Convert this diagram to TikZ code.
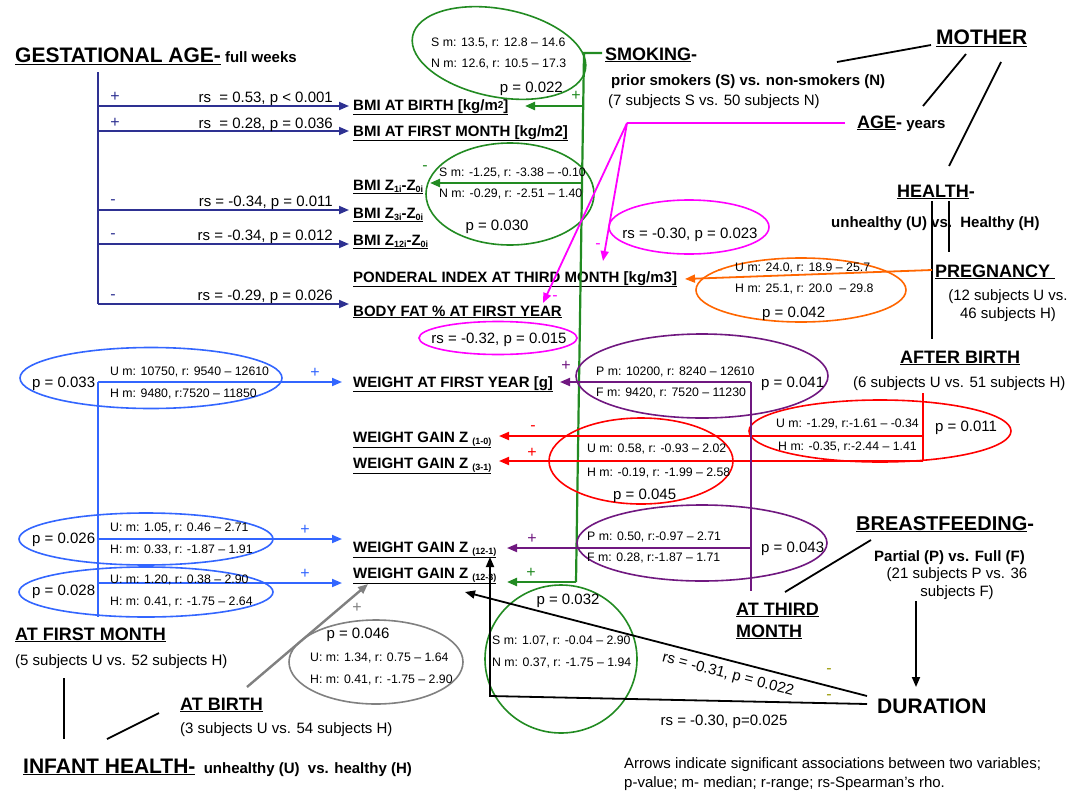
\documentclass[tikz,border=0pt]{standalone}
\usepackage{fontspec}
\setmainfont{Liberation Sans}
\usetikzlibrary{arrows.meta,shapes.geometric}
\newcommand\fsz[1]{\fontsize{#1}{#1}\selectfont}
\newcommand\ul[1]{\setbox0\hbox{#1}\rlap{\rule[\dimexpr-\dp0-2pt\relax]{\wd0}{1.1pt}}\box0}
\newcommand\sbs[1]{\raisebox{-2pt}{\fsz{9}#1}}
\definecolor{gablue}{RGB}{46,49,146}
\definecolor{ihblue}{RGB}{51,102,255}
\definecolor{smgreen}{RGB}{34,139,34}
\definecolor{agemag}{RGB}{255,0,255}
\definecolor{pgorange}{RGB}{255,102,0}
\definecolor{abred}{RGB}{255,0,0}
\definecolor{bfpurple}{RGB}{112,24,128}
\definecolor{ihgray}{RGB}{128,128,128}
\definecolor{olivesgn}{RGB}{153,153,0}
\begin{document}
\begin{tikzpicture}[x=1pt,y=-1pt,
  every node/.style={inner sep=0pt},
  tx/.style={anchor=base west},
  tr/.style={anchor=base east},
  tc/.style={anchor=base},
  lab/.style={anchor=base west,font=\bfseries\fsz{15}},
  reg/.style={font=\fsz{15}},
  bld/.style={font=\bfseries\fsz{15}},
  sm/.style={anchor=base west,font=\fsz{12.3}},
  ln/.style={line width=1.8pt},
  arr/.style={line width=1.8pt,-{Triangle[length=10pt,width=8pt]}},
  ell/.style={draw,ellipse,line width=1.6pt},
  sgn/.style={font=\fsz{16}},
]
\useasboundingbox[fill=white] (0,0) rectangle (1083,792);

% ---------- target labels ----------
\node[lab] (bmib) at (353,110) {\ul{BMI AT BIRTH [kg/m\raisebox{1.5pt}{\fsz{10}2}]}};
\node[lab] (bmif) at (353,136) {\ul{BMI AT FIRST MONTH [kg/m2]}};
\node[lab] (z1) at (353,190) {\ul{BMI Z\sbs{1i}-Z\sbs{0i}}};
\node[lab] (z3) at (353,218) {\ul{BMI Z\sbs{3i}-Z\sbs{0i}}};
\node[lab] (z12) at (353,245) {\ul{BMI Z\sbs{12i}-Z\sbs{0i}}};
\node[lab] (pond) at (353,282) {\ul{PONDERAL INDEX AT THIRD MONTH [kg/m3]}};
\node[lab] (bfat) at (353,316) {\ul{BODY FAT \% AT FIRST YEAR}};
\node[lab] (w1y) at (353,387) {\ul{WEIGHT AT FIRST YEAR [g]}};
\node[lab] (wg10) at (353,442) {\ul{WEIGHT GAIN Z \sbs{(1-0)}}};
\node[lab] (wg31) at (353,468) {\ul{WEIGHT GAIN Z \sbs{(3-1)}}};
\node[lab] (wg121) at (353,552) {\ul{WEIGHT GAIN Z \sbs{(12-1)}}};
\node[lab] (wg123) at (353,578) {\ul{WEIGHT GAIN Z \sbs{(12-3)}}};

% ---------- gestational age ----------
\node[tx] (ga) at (15,63) {\bfseries\fsz{21}\ul{GESTATIONAL AGE-}\fsz{15} full weeks};
\coordinate (gaTop) at (98,72);
\coordinate (gaBot) at (98,304);
\draw[ln,gablue] (gaTop) -- (gaBot);
\foreach \y/\n in {106/1,131/2,210/3,244/4,304/5}{
  \coordinate (gas\n) at (98,\y);
  \draw[arr,gablue] (gas\n) -- ([xshift=-4pt]gas\n -| bmib.west);
}
\node[tr,reg] (gar1) at (333,102) {rs\ \ = 0.53, p < 0.001};
\node[tr,reg] (gar2) at (333,128) {rs\ \ = 0.28, p = 0.036};
\node[tr,reg] (gar3) at (333,206) {rs = -0.34, p = 0.011};
\node[tr,reg] (gar4) at (333,240) {rs = -0.34, p = 0.012};
\node[tr,reg] (gar5) at (333,300) {rs = -0.29, p = 0.026};
\node[sgn,gablue] (gas1s) at (115,97) {+};
\node[sgn,gablue] (gas2s) at (115,123) {+};
\node[sgn,gablue] (gas3s) at (113,202) {-};
\node[sgn,gablue] (gas4s) at (113,236) {-};
\node[sgn,gablue] (gas5s) at (113,297) {-};

% ---------- smoking ----------
\node[tx] (smk) at (605,60) {\bfseries\fsz{18}\ul{SMOKING}-};
\node[tx,bld] (smk2) at (611,85) {prior smokers (S) vs. non-smokers (N)};
\node[tx,reg] (smk3) at (608,105) {(7 subjects S vs. 50 subjects N)};
\node[ell,smgreen,rotate=-11,minimum width=176pt,minimum height=88pt] (se1) at (499,53) {};
\node[ell,smgreen,minimum width=168pt,minimum height=102pt] (se2) at (510,194) {};
\node[ell,smgreen,minimum width=152pt,minimum height=148pt] (se3) at (561,659) {};
\coordinate (smA) at (602,53);
\coordinate (smB) at (584,53);
\coordinate (smC) at (576,582);
\coordinate (smD) at (583,106);
\coordinate (smE) at (582,183);
\draw[ln,smgreen,line width=2.2pt] (smA) -- (smB) -- (smC);
\draw[arr,smgreen,line width=2.2pt] (smD) -- (525,106) coordinate (smDt);
\draw[arr,smgreen,line width=2.2pt] (smE) -- (430,183) coordinate (smEt);
\draw[arr,smgreen,line width=2.2pt] (smC) -- (507,582) coordinate (smCt);
\node[sgn,smgreen] (sms1) at (576,96) {+};
\node[sgn,smgreen] (sms2) at (425,168) {-};
\node[sgn,smgreen] (sms3) at (531,573) {+};
\node[sm] (se1a) at (431,46) {S m: 13.5, r: 12.8 – 14.6};
\node[sm] (se1b) at (431,67) {N m: 12.6, r: 10.5 – 17.3};
\node[tr,reg] (se1p) at (563,92) {p = 0.022};
\node[sm] (se2a) at (439,176) {S m: -1.25, r: -3.38 – -0.10};
\node[sm] (se2b) at (439,197) {N m: -0.29, r: -2.51 – 1.40};
\node[tc,reg] (se2p) at (497,230) {p = 0.030};
\node[tc,reg] (se3p) at (568,604) {p = 0.032};
\node[sm] (se3a) at (492,644) {S m: 1.07, r: -0.04 – 2.90};
\node[sm] (se3b) at (492,666) {N m: 0.37, r: -1.75 – 1.94};

% ---------- mother ----------
\node[tx] (mo) at (936,45) {\bfseries\fsz{21}\ul{MOTHER}};
\draw[ln] (931,45) coordinate (moA) -- (837,62) coordinate (moAe);
\draw[ln] (966,54) coordinate (moB) -- (923,106) coordinate (moBe);
\draw[ln] (1001,62) coordinate (moC) -- (949,166) coordinate (moCe);

% ---------- age ----------
\node[tx] (age) at (857,128) {\bfseries\fsz{18}\ul{AGE}-\fsz{15} years};
\coordinate (agA) at (845,123);
\coordinate (agB) at (627,123);
\draw[ln,agemag] (agA) -- (agB);
\draw[arr,agemag] (agB) -- (543,303) coordinate (agT1);
\draw[arr,agemag] (agB) -- (603,261) coordinate (agT2);
\node[sgn,agemag] (ags1) at (598,246) {-};
\node[sgn,agemag] (ags2) at (555,298) {-};
\node[ell,agemag,minimum width=160pt,minimum height=54pt] (ae1) at (689,227) {};
\node[tc,reg] (ae1t) at (690,238) {rs = -0.30, p = 0.023};
\node[ell,agemag,minimum width=158pt,minimum height=33pt] (ae2) at (498,338) {};
\node[tc,reg] (ae2t) at (499,343) {rs = -0.32, p = 0.015};

% ---------- health ----------
\node[tx] (he) at (897,197) {\bfseries\fsz{18}\ul{HEALTH}-};
\node[tx,bld] (he2) at (831,227) {unhealthy (U) vs.\ \ Healthy (H)};
\draw[ln] (932,201) coordinate (heA) -- (932,339) coordinate (heAe);
\draw[ln] (949,201) coordinate (heB) -- (949,252) coordinate (heBe);

% ---------- pregnancy ----------
\node[tx] (pr) at (935,277) {\bfseries\fsz{18}\ul{PREGNANCY\ }};
\node[tc,reg] (pr2) at (1008,300) {(12 subjects U vs.};
\node[tc,reg] (pr3) at (1008,318) {46 subjects H)};
\node[ell,pgorange,minimum width=210pt,minimum height=64pt] (pe) at (801,290) {};
\draw[arr,pgorange] (932,270) coordinate (prA) -- (685,279) coordinate (prT);
\node[sgn,pgorange] (prs) at (720,272) {-};
\node[sm] (pea) at (735,271) {U m: 24.0, r: 18.9 – 25.7};
\node[sm] (peb) at (735,292) {H m: 25.1, r: 20.0\ \ – 29.8};
\node[tx,reg] (pep) at (762,317) {p = 0.042};

% ---------- after birth ----------
\node[tx] (ab) at (900,363) {\bfseries\fsz{18}\ul{AFTER BIRTH}};
\node[tx,reg] (ab2) at (853,387) {(6 subjects U vs. 51 subjects H)};
\node[ell,abred,minimum width=262pt,minimum height=62pt] (re1) at (880,431) {};
\node[ell,abred,minimum width=184pt,minimum height=86pt] (re2) at (641,461) {};
\coordinate (abA) at (923,393);
\coordinate (abB) at (923,436);
\coordinate (abC) at (923,461);
\draw[ln,abred] (abA) -- (abC);
\draw[arr,abred] (abB) -- (499,436) coordinate (abBt);
\draw[arr,abred] (abC) -- (499,461) coordinate (abCt);
\node[sgn,abred] (abs1) at (533,428) {-};
\node[sgn,abred] (abs2) at (532,453) {+};
\node[tr,font=\fsz{12.3}] (re1a) at (919,427) {U m: -1.29, r:-1.61 – -0.34};
\node[sm] (re1b) at (778,450) {H m: -0.35, r:-2.44 – 1.41};
\node[tx,reg] (re1p) at (935,431) {p = 0.011};
\node[sm] (re2a) at (587,452) {U m: 0.58, r: -0.93 – 2.02};
\node[sm] (re2b) at (587,476) {H m: -0.19, r: -1.99 – 2.58};
\node[tx,reg] (re2p) at (613,499) {p = 0.045};

% ---------- breastfeeding ----------
\node[tx] (bfd) at (856,530) {\bfseries\fsz{20}\ul{BREASTFEEDING}-};
\node[tx,bld] (bfd2) at (874,561) {Partial (P) vs. Full (F)};
\node[tc,reg] (bfd3) at (957,578) {(21 subjects P vs. 36};
\node[tc,reg] (bfd4) at (957,596) {subjects F)};
\node[ell,bfpurple,minimum width=252pt,minimum height=84pt] (pu1) at (702,376) {};
\node[ell,bfpurple,minimum width=250pt,minimum height=76pt] (pu2) at (702,543) {};
\coordinate (bfA) at (751,382);
\coordinate (bfB) at (751,548);
\coordinate (bfC) at (751,591);
\draw[ln,bfpurple] (bfA) -- (bfC);
\draw[arr,bfpurple] (bfA) -- (560,382) coordinate (bfAt);
\draw[arr,bfpurple] (bfB) -- (507,548) coordinate (bfBt);
\node[sgn,bfpurple] (bfs1) at (566,366) {+};
\node[sgn,bfpurple] (bfs2) at (532,539) {+};
\node[sm] (pu1a) at (596,375) {P m: 10200, r: 8240 – 12610};
\node[sm] (pu1b) at (596,396) {F m: 9420, r: 7520 – 11230};
\node[tx,reg] (pu1p) at (761,387) {p = 0.041};
\node[sm] (pu2a) at (587,540) {P m: 0.50, r:-0.97 – 2.71};
\node[sm] (pu2b) at (587,561) {F m: 0.28, r:-1.87 – 1.71};
\node[tx,reg] (pu2p) at (761,552) {p = 0.043};
\node[tx] (atm1) at (736,615) {\bfseries\fsz{18}\ul{AT THIRD}};
\node[tx] (atm2) at (736,637) {\bfseries\fsz{18}\ul{MONTH}};
\draw[ln] (871,540) coordinate (bfL) -- (785,592) coordinate (bfLe);

% ---------- duration ----------
\node[tx] (dur) at (877,713) {\bfseries\fsz{21}DURATION};
\draw[arr] (916,601) coordinate (duA) -- (916,687) coordinate (duAt);
\coordinate (duB) at (867,696);
\coordinate (duC) at (867,704);
\coordinate (duD) at (490,696);
\draw[arr] (duB) -- (465,592) coordinate (duBt);
\draw[arr] (duC) -- (duD) -- (490,557) coordinate (duDt);
\node[reg,rotate=-14.5] (dur1) at (728,675) {rs = -0.31, p = 0.022};
\node[tc,reg] (dur2) at (724,725) {rs = -0.30, p=0.025};
\node[sgn,olivesgn] (dus1) at (829,671) {-};
\node[sgn,olivesgn] (dus2) at (829,697) {-};

% ---------- infant health ----------
\node[ell,ihblue,minimum width=262pt,minimum height=61pt] (ib1) at (151,378) {};
\node[ell,ihblue,minimum width=254pt,minimum height=52pt] (ib2) at (146,539) {};
\node[ell,ihblue,minimum width=254pt,minimum height=50pt] (ib3) at (146,592) {};
\coordinate (ihA) at (98,382);
\coordinate (ihB) at (98,539);
\coordinate (ihC) at (98,583);
\coordinate (ihD) at (98,617);
\draw[ln,ihblue] (ihA) -- (ihD);
\draw[arr,ihblue] (ihA) -- (342,382) coordinate (ihAt);
\draw[arr,ihblue] (ihB) -- (342,539) coordinate (ihBt);
\draw[arr,ihblue] (ihC) -- (342,583) coordinate (ihCt);
\node[sgn,ihblue] (ihs1) at (315,373) {+};
\node[sgn,ihblue] (ihs2) at (305,530) {+};
\node[sgn,ihblue] (ihs3) at (305,574) {+};
\node[tx,reg] (ib1p) at (32,387) {p = 0.033};
\node[sm] (ib1a) at (110,375) {U m: 10750, r: 9540 – 12610};
\node[sm] (ib1b) at (110,397) {H m: 9480, r:7520 – 11850};
\node[tx,reg] (ib2p) at (32,543) {p = 0.026};
\node[sm] (ib2a) at (110,531) {U: m: 1.05, r: 0.46 – 2.71};
\node[sm] (ib2b) at (110,553) {H: m: 0.33, r: -1.87 – 1.91};
\node[tx,reg] (ib3p) at (32,595) {p = 0.028};
\node[sm] (ib3a) at (110,583) {U: m: 1.20, r: 0.38 – 2.90};
\node[sm] (ib3b) at (110,605) {H: m: 0.41, r: -1.75 – 2.64};

\node[tx] (afm) at (15,640) {\bfseries\fsz{18}\ul{AT FIRST MONTH}};
\node[tx,reg] (afm2) at (15,665) {(5 subjects U vs. 52 subjects H)};
\node[tx] (atb) at (180,710) {\bfseries\fsz{18}\ul{AT BIRTH}};
\node[tx,reg] (atb2) at (180,733) {(3 subjects U vs. 54 subjects H)};
\node[tx] (ih) at (23,773) {\bfseries\fsz{21}\ul{INFANT HEALTH-}\fsz{15}\ \ unhealthy (U)\ \ vs. healthy (H)};
\draw[ln] (64,678) coordinate (ihL1) -- (64,739) coordinate (ihL1e);
\draw[ln] (107,739) coordinate (ihL2) -- (159,713) coordinate (ihL2e);

% ---------- at birth (gray) ----------
\node[ell,ihgray,minimum width=174pt,minimum height=84pt] (ge) at (376,662) {};
\draw[arr,ihgray,line width=2.4pt] (247,687) coordinate (gA) -- (368,584) coordinate (gAt);
\node[sgn,ihgray] (gs) at (357,608) {+};
\node[tc,reg] (gep) at (358,638) {p = 0.046};
\node[sm] (gea) at (310,661) {U: m: 1.34, r: 0.75 – 1.64};
\node[sm] (geb) at (310,683) {H: m: 0.41, r: -1.75 – 2.90};

% ---------- note ----------
\node[tx,reg] (note1) at (624,768) {Arrows indicate significant associations between two variables;};
\node[tx,reg] (note2) at (624,787) {p-value; m- median; r-range; rs-Spearman’s rho.};
\end{tikzpicture}
\end{document}
